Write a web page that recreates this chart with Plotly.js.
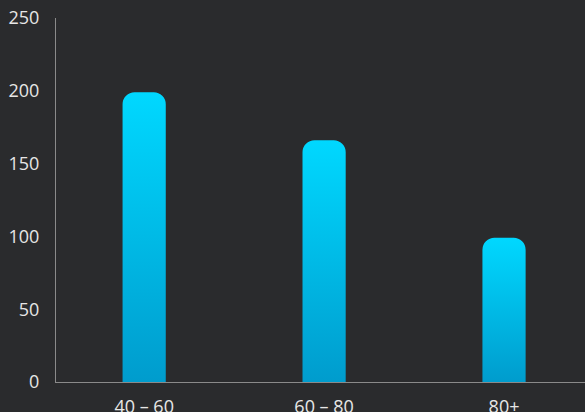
<!DOCTYPE html>
<html>
<head>
<meta charset="utf-8">
<script src="https://cdn.plot.ly/plotly-3.0.1.min.js"></script>
<style>
html,body{margin:0;padding:0;background:#2a2b2d;}
#chart{width:585px;height:412px;}
</style>
</head>
<body>
<div id="chart"></div>
<script>
const categories = ["40 – 60", "60 – 80", "80+"];
const values = [199, 166, 99];
const yTicks = [0, 50, 100, 150, 200, 250];

const trace = {
  type: "bar",
  x: [0, 1, 2],
  y: values,
  width: 0.24,
  marker: {color: "#00c4f0", cornerradius: 12, line: {width: 0}},
  hoverinfo: "none"
};

const layout = {
  width: 585,
  height: 412,
  paper_bgcolor: "#2a2b2d",
  plot_bgcolor: "#2a2b2d",
  margin: {l: 56, r: 0, t: 18, b: 30},
  showlegend: false,
  font: {family: "Open Sans", size: 18, color: "#e6e6e6"},
  xaxis: {
    range: [-0.49, 2.45],
    tickvals: [0, 1, 2],
    ticktext: categories,
    showgrid: false,
    zeroline: false,
    showline: true,
    linecolor: "#8a8a8a",
    linewidth: 1,
    ticks: "outside",
    ticklen: 8,
    tickcolor: "rgba(0,0,0,0)",
    fixedrange: true
  },
  yaxis: {
    range: [0, 250],
    tickvals: yTicks,
    ticktext: yTicks.map(String),
    showgrid: false,
    zeroline: false,
    showline: true,
    linecolor: "#8a8a8a",
    linewidth: 1,
    ticks: "outside",
    ticklen: 12,
    tickcolor: "rgba(0,0,0,0)",
    fixedrange: true
  }
};

Plotly.newPlot("chart", [trace], layout, {displayModeBar: false, staticPlot: true}).then(function(gd){
  const svg = gd.querySelector("svg.main-svg");
  const ns = "http://www.w3.org/2000/svg";
  let defs = svg.querySelector("defs");
  if (!defs) { defs = document.createElementNS(ns, "defs"); svg.insertBefore(defs, svg.firstChild); }
  const grad = document.createElementNS(ns, "linearGradient");
  grad.setAttribute("id", "barGrad");
  grad.setAttribute("x1", "0"); grad.setAttribute("y1", "0");
  grad.setAttribute("x2", "0"); grad.setAttribute("y2", "1");
  [["0", "#00d8ff"], ["1", "#009ccd"]].forEach(function(s){
    const st = document.createElementNS(ns, "stop");
    st.setAttribute("offset", s[0]);
    st.setAttribute("stop-color", s[1]);
    grad.appendChild(st);
  });
  defs.appendChild(grad);
  gd.querySelectorAll(".bars .point path").forEach(function(p){
    p.style.fill = "url(#barGrad)";
  });
});
</script>
</body>
</html>
